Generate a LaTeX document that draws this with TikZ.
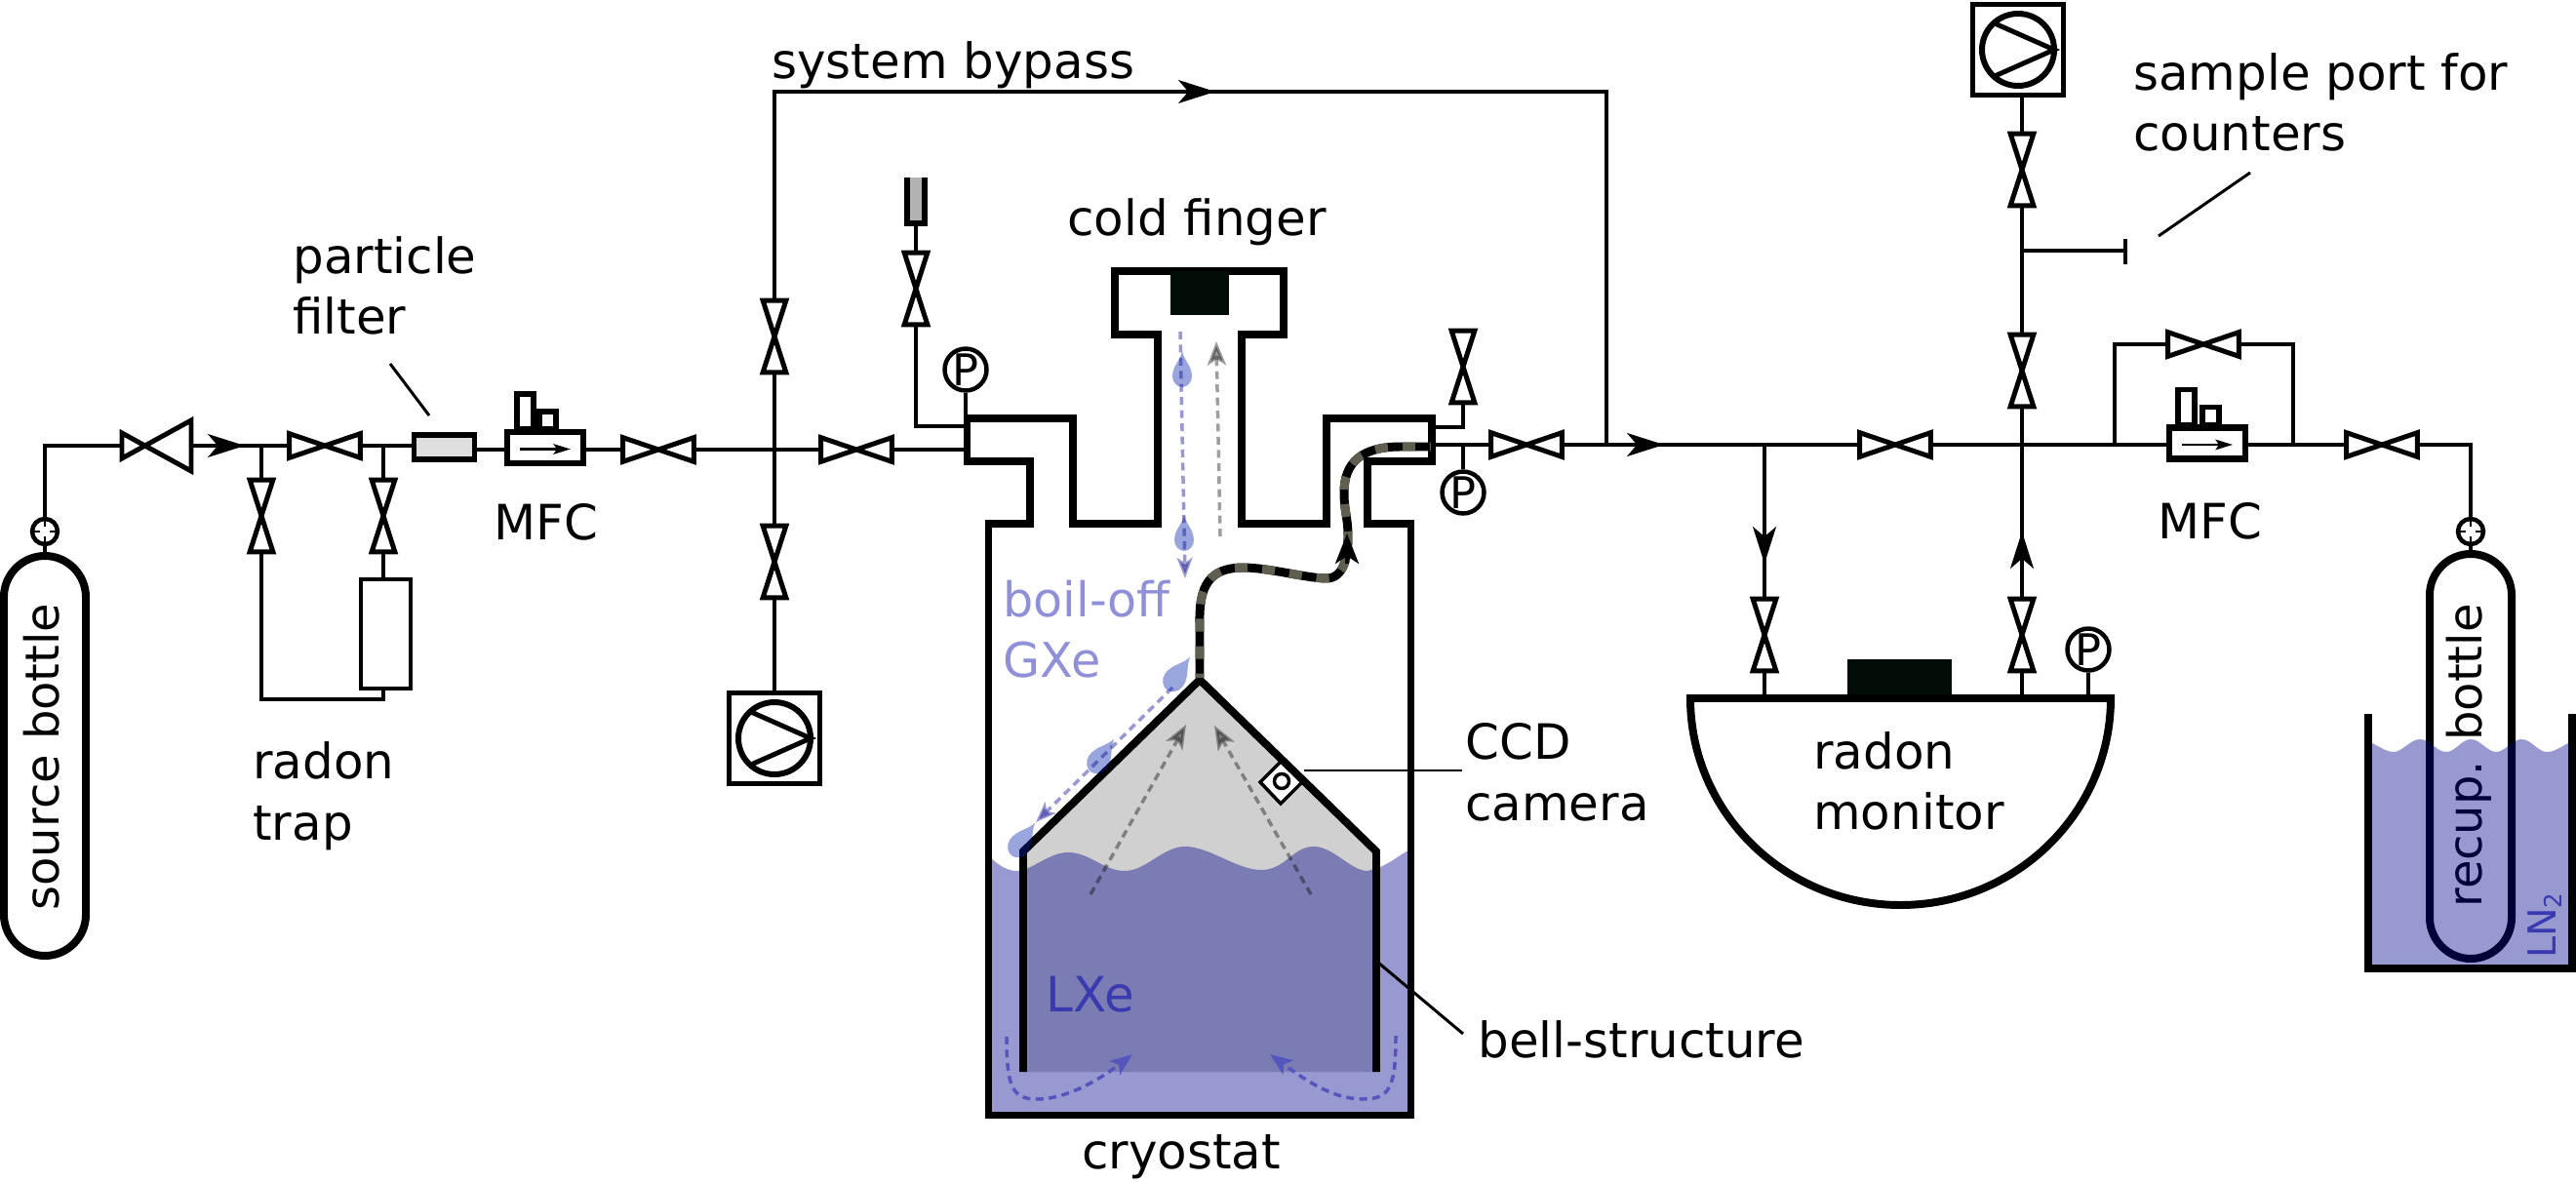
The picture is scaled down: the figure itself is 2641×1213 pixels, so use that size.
\documentclass[tikz,border=0pt]{standalone}
\usepackage{fontspec}
\setmainfont{DejaVu Sans}
\usetikzlibrary{arrows.meta,calc}
\def\px{0.5669pt}
\definecolor{liq}{RGB}{0,0,140}
\definecolor{dropc}{RGB}{0,30,170}
\definecolor{gxe}{RGB}{144,144,216}
\definecolor{lxe}{RGB}{58,58,176}
\definecolor{swirl}{RGB}{85,85,190}
\definecolor{cold}{RGB}{3,13,7}
\definecolor{fibre}{RGB}{95,94,80}
\tikzset{
  pipe/.style={line width=4.5*\px},
  vl/.style={line width=5*\px,fill=white},
  hv/.style={rectangle,inner sep=0pt,minimum width=1.44cm,minimum height=0.48cm},
  vv/.style={rectangle,inner sep=0pt,minimum width=0.46cm,minimum height=1.46cm},
  lab/.style={inner sep=0pt,font=\fontsize{28.4}{35.6}\selectfont,align=left},
  vlab/.style={inner sep=0pt,font=\fontsize{27.3}{34}\selectfont,rotate=90,anchor=center},
  gauge/.style={circle,draw,line width=4.5*\px,inner sep=0pt,minimum size=0.86cm,fill=white,font=\fontsize{25.5}{26}\selectfont},
  port/.style={circle,draw,line width=4.5*\px,inner sep=0pt,minimum size=0.52cm,fill=white},
  tick/.style={line width=2*\px},
  wall/.style={line width=8*\px,miter limit=10},
  lead/.style={line width=3*\px},
  flow/.style={-{Stealth[length=21.5pt,width=13.5pt,inset=5.7pt]},pipe},
  bluedash/.style={line width=3.5*\px,draw=liq,opacity=0.4,dash pattern=on 8*\px off 5.5*\px,-{Stealth[length=12pt,width=9pt,inset=3pt]}},
  greydash/.style={line width=3.5*\px,draw=black,opacity=0.38,dash pattern=on 8*\px off 5.5*\px,-{Stealth[length=14pt,width=11pt,inset=3.5pt]}},
  swirldash/.style={line width=3.5*\px,draw=swirl,dash pattern=on 8*\px off 5.5*\px,-{Stealth[length=13pt,width=10pt,inset=3pt]}},
  droplet/.style={fill=dropc,opacity=0.4},
  mfcbox/.style={rectangle,draw,line width=6.5*\px,fill=white,inner sep=0pt,minimum width=1.56cm,minimum height=0.64cm},
  pumpbox/.style={rectangle,draw,line width=5.5*\px,fill=white,inner sep=0pt,minimum size=1.86cm},
  pumpdisc/.style={circle,draw,line width=6*\px,inner sep=0pt,minimum size=1.48cm}
}
\newcommand\hvalve[3]{\node[hv] (#1) at (#2,#3) {};
  \draw[vl] (#1.north west) -- (#1.south east) -- (#1.north east) -- (#1.south west) -- cycle;}
\newcommand\vvalve[3]{\node[vv] (#1) at (#2,#3) {};
  \draw[vl] (#1.north west) -- (#1.north east) -- (#1.south west) -- (#1.south east) -- cycle;}
\newcommand\portring[3]{\node[port] (#1) at (#2,#3) {};
  \draw[tick] (#1.north) -- ++(0,10); \draw[tick] (#1.south) -- ++(0,-10);
  \draw[tick] (#1.west) -- ++(10,0); \draw[tick] (#1.east) -- ++(-10,0);}
\newcommand\pumpsym[3]{\node[pumpbox] (#1) at (#2,#3) {};
  \node[pumpdisc] (#1d) at (#2,#3) {};
  \draw[line width=5*\px] ($(#2,#3)+(-24,-27)$) -- ($(#2,#3)+(37,0)$) -- ($(#2,#3)+(-24,27)$);}
\newcommand\dropat[4]{\begin{scope}[shift={(#1,#2)},rotate=#3,scale=#4]
  \fill[droplet] (0,-19) .. controls (2,-9) and (10,-4) .. (10,7) .. controls (10,13) and (5,18) .. (0,18) .. controls (-5,18) and (-10,13) .. (-10,7) .. controls (-10,-4) and (-2,-9) .. (0,-19) -- cycle;
  \end{scope}}
\newcommand\mfcsym[5]{% name, x, y, tall x, short x
  \draw[line width=6*\px,fill=white] (#4,#3-19) rectangle (#4+17,#3-55);
  \draw[line width=6*\px,fill=white] (#5,#3-19) rectangle (#5+17,#3-37);
  \node[mfcbox] (#1) at (#2,#3) {};
  \draw[line width=2.5*\px,-{Stealth[length=10pt,width=6pt,inset=2pt]}] (#2-26,#3+1.5) -- (#2+26,#3+1.5);}
\begin{document}
\begin{tikzpicture}[x=0.02cm,y=-0.02cm]
\useasboundingbox (0,0) rectangle (2641,1213);

% ---- bell interior, recuperation bottle, liquids
\fill[black!18.5] (1230,697) -- (1410,873) -- (1410,1099) -- (1050,1099) -- (1050,873) -- cycle;
\node[vlab] (recuptext) at (2531,775) {recup. bottle};
\draw[wall] (2491,610) .. controls (2491,587) and (2510,568) .. (2533,568) .. controls (2556,568) and (2575,587) .. (2575,610) -- (2575,941) .. controls (2575,964) and (2556,983) .. (2533,983) .. controls (2510,983) and (2491,964) .. (2491,941) -- cycle;
\coordinate (recuptop) at (2533,568);
% liquid in the dewar
\fill[liq,opacity=0.4] (2432,762) .. controls (2442,767) and (2447,771) .. (2454,771) .. controls (2463,771) and (2471,758) .. (2481,758) .. controls (2491,758) and (2498,771) .. (2508,771) .. controls (2517,771) and (2524,758) .. (2533,758) .. controls (2543,758) and (2550,771) .. (2559,771) .. controls (2568,771) and (2576,758) .. (2585,758) .. controls (2595,758) and (2602,771) .. (2611,771) .. controls (2619,771) and (2625,766) .. (2633,762) -- (2633,993) -- (2432,993) -- cycle;
\node[inner sep=0pt,rotate=90,anchor=center,text=lxe,font=\fontsize{22.5}{24}\selectfont] (lntext) at (2609,949) {LN{\fontsize{14}{14}\selectfont\raisebox{-3pt}{2}}};
% liquid in the cryostat
\fill[liq,opacity=0.4] (1016,880) .. controls (1025,888) and (1033,893) .. (1043,893) -- (1052,891) .. controls (1068,884) and (1080,874) .. (1095,874) .. controls (1117,874) and (1132,893) .. (1153,893) .. controls (1175,893) and (1192,868) .. (1215,868) .. controls (1240,868) and (1268,892) .. (1293,892) .. controls (1318,892) and (1325,868) .. (1347,868) .. controls (1367,868) and (1385,893) .. (1402,893) -- (1413,890) .. controls (1425,885) and (1433,878) .. (1444,872) -- (1444,1141) -- (1016,1141) -- cycle;

% dewar wall
\draw[line width=8*\px,miter limit=10] (2428,732) -- (2428,993) -- (2637,993) -- (2637,732);

% ---- source bottle
\draw[wall] (4,612) .. controls (4,589) and (23,570) .. (46,570) .. controls (69,570) and (88,589) .. (88,612) -- (88,938) .. controls (88,961) and (69,980) .. (46,980) .. controls (23,980) and (4,961) .. (4,938) -- cycle;
\coordinate (sourcetop) at (46,570);
\node[vlab] (sourcetext) at (43,776) {source bottle};
\portring{pA}{46}{545}
\portring{pB}{2533}{545}
\draw[pipe] (pA.south) -- (sourcetop);
\draw[pipe] (pB.south) -- (recuptop);

% ---- left gas panel
\node[rectangle,inner sep=0pt,minimum width=1.42cm,minimum height=1.04cm] (vR) at (160.5,457) {};
\draw[vl] (125,444) -- (196,483) -- (196,431) -- (125,470) -- cycle;
\coordinate (tee1) at (268,457);
\coordinate (tee2) at (393,457);
\coordinate (corner1) at (46,457);
\draw[pipe] (pA.north) -- (corner1) -- (vR.west);
\hvalve{vA}{333}{457}
\node[rectangle,draw,line width=6*\px,fill=black!13,inner sep=0pt,minimum width=1.24cm,minimum height=0.5cm] (filt) at (455.5,458.5) {};
\mfcsym{mfcL}{559}{459}{530}{553}
\hvalve{vB}{675}{461}
\hvalve{vC}{878}{461}
\coordinate (tip1) at (251,457);
\draw[pipe] (vR.east) -- (vA.west);
\draw[flow] (vR.east) -- (tip1);
\draw[pipe] (vA.east) -- (vA.east -| filt.west);
\draw[pipe] (filt.east |- vB.west) -- (mfcL.west |- vB.west);
\draw[pipe] (mfcL.east |- vB.west) -- (vB.west);
\vvalve{vH}{268}{529}
\vvalve{vI}{393}{529}
\node[rectangle,draw,line width=4.5*\px,fill=white,inner sep=0pt,minimum width=1.02cm,minimum height=2.24cm] (trap) at (395.5,650) {};
\coordinate (trapdrop) at (393,717);
\coordinate (corner2) at (268,717);
\draw[pipe] (tee1) -- (vH.north);
\draw[pipe] (tee2) -- (vI.north);
\draw[pipe] (vI.south) -- (vI.south |- trap.north);
\draw[pipe] (vH.south) -- (corner2) -- (trapdrop) -- (trapdrop |- trap.south);

% ---- pump, bypass
\coordinate (cross1) at (794,461);
\vvalve{vJ}{794}{345}
\vvalve{vK}{794}{576}
\pumpsym{pumpL}{794}{757}
\coordinate (corner3) at (794,94);
\coordinate (corner4) at (1647,94);
\coordinate (joinR) at (1647,456);
\coordinate (byptail) at (1209,94);
\coordinate (byptip) at (1246,94);
\draw[pipe] (vB.east) -- (vC.west);
\draw[pipe] (vJ.north) -- (corner3) -- (corner4) -- (joinR);
\draw[pipe] (vJ.south) -- (vK.north);
\draw[pipe] (vK.south) -- (pumpL.north);
\draw[flow] (byptail) -- (byptip);

% ---- left cryostat services
\coordinate (flA) at (991,461);
\coordinate (flB) at (991,437);
\coordinate (corner5) at (939,437);
\draw[pipe] (vC.east) -- (flA);
\vvalve{vL}{939}{296}
\draw[line width=5.5*\px,fill=black!30] (930,182) -- (930,229) -- (948,229) -- (948,182);
\coordinate (stub) at (939,229);
\draw[pipe] (stub) -- (vL.north);
\draw[pipe] (vL.south) -- (corner5) -- (flB);
\node[gauge] (gA) at (990,379) {P};
\coordinate (flC) at (990,429);
\draw[pipe] (gA.south) -- (flC);

% ---- cryostat
\draw[wall,fill=none] (991.5,429) -- (991.5,473) -- (1056,473) -- (1056,537) -- (1013.5,537) -- (1013.5,1143.5) -- (1446.5,1143.5) -- (1446.5,537) -- (1402,537) -- (1402,473) -- (1468,473) -- (1468,429) -- (1360,429) -- (1360,537) -- (1273,537) -- (1273,343) -- (1316,343) -- (1316,278) -- (1143,278) -- (1143,343) -- (1187,343) -- (1187,537) -- (1100,537) -- (1100,429) -- cycle;
\node[rectangle,fill=cold,inner sep=0pt,minimum width=1.2cm,minimum height=0.9cm] (coldhead) at (1230,300.5) {};

% camera
\draw[line width=3.5*\px,fill=white] (1314,780) -- (1335,802) -- (1313,824) -- (1292,802) -- cycle;
\node[circle,draw,line width=3.5*\px,inner sep=0pt,minimum size=0.3cm] (cam) at (1314,801) {};

% bell
\draw[wall] (1049,1099) -- (1049,873) -- (1230,697) -- (1411,873) -- (1411,1099);
\coordinate (bellwall) at (1413,987);
\coordinate (belllab) at (1500,1060);
\coordinate (ccdlab) at (1499,790);
\coordinate (ccdstart) at (1337,790);
\draw[lead] (ccdstart) -- (ccdlab);
\draw[lead] (bellwall) -- (belllab);

% right cryostat services
\coordinate (flD) at (1468,438);
\coordinate (corner6) at (1500,438);
\coordinate (flE) at (1468,456);
\vvalve{vM}{1500}{376}
\hvalve{vD}{1565}{456}
\node[gauge] (gB) at (1500,505) {P};
\coordinate (tee3) at (1500,456);
\draw[pipe] (flD) -- (corner6) -- (vM.south);
\draw[pipe] (flE) -- (vD.west);
\draw[pipe] (tee3) -- (gB.north);

% fibre
\draw[line width=9*\px,black] (1230,695) -- (1230,640) .. controls (1229,600) and (1240,582) .. (1275,582) .. controls (1300,582) and (1340,593) .. (1360,593) .. controls (1378,593) and (1382,570) .. (1382,550) .. controls (1382,530) and (1378,525) .. (1378,505) .. controls (1378,475) and (1395,458) .. (1436,458) -- (1467,458);
\draw[line width=9*\px,fibre,dash pattern=on 7.5pt off 8.5pt,dash phase=5pt] (1230,695) -- (1230,640) .. controls (1229,600) and (1240,582) .. (1275,582) .. controls (1300,582) and (1340,593) .. (1360,593) .. controls (1378,593) and (1382,570) .. (1382,550) .. controls (1382,530) and (1378,525) .. (1378,505) .. controls (1378,475) and (1395,458) .. (1436,458) -- (1467,458);
\coordinate (fibtail) at (1381,578);
\coordinate (fibtip) at (1381,547);
\draw[pipe,-{Stealth[length=17.6pt,width=13.6pt,inset=4.5pt]}] (fibtail) -- (fibtip);

% drops and dashed flows
\dropat{1212}{379}{0}{1}
\dropat{1214}{547}{0}{1}
\dropat{1208}{691}{-35}{1.12}
\dropat{1130}{775}{-35}{1.12}
\dropat{1049}{861}{-35}{1.12}
\draw[bluedash] (1210,340) -- (1215,593);
\draw[greydash] (1251,550) -- (1247,350);
\draw[bluedash] (1202,705) -- (1062,843);
\draw[greydash] (1118,917) -- (1216,743);
\draw[greydash] (1344,917) -- (1245,744);
\draw[swirldash] (1032,1063) .. controls (1032,1115) and (1038,1127) .. (1063,1127) .. controls (1095,1127) and (1130,1105) .. (1161,1081);
\draw[swirldash] (1431,1062) .. controls (1431,1115) and (1425,1127) .. (1397,1127) .. controls (1365,1127) and (1335,1105) .. (1302,1081);

% ---- right gas panel
\coordinate (tail2) at (1664,456);
\coordinate (tip2) at (1706,456);
\coordinate (tee4) at (1809,456);
\coordinate (cross2) at (2073,456);
\coordinate (tee5) at (2168,456);
\coordinate (tee6) at (2351,456);
\coordinate (corner7) at (2533,456);
\coordinate (corner8) at (2168,353);
\coordinate (corner9) at (2351,353);
\hvalve{vE}{1943}{456}
\hvalve{vF}{2259}{353}
\hvalve{vG}{2442}{456}
\draw[pipe] (vD.east) -- (vE.west);
\draw[flow] (tail2) -- (tip2);
\mfcsym{mfcR}{2263}{454.5}{2233}{2258}
\draw[pipe] (vE.east) -- (vE.east -| mfcR.west);
\draw[pipe] (mfcR.east |- vG.west) -- (vG.west);
\draw[pipe] (vG.east) -- (corner7) -- (pB.north);
\draw[pipe] (tee5) -- (corner8) -- (vF.west);
\draw[pipe] (vF.east) -- (corner9) -- (tee6);
\vvalve{vN}{2073}{380}
\vvalve{vO}{2073}{174}
\vvalve{vP}{1809}{651}
\vvalve{vQ}{2073}{651}
\pumpsym{pumpR}{2069}{51}
\coordinate (monA) at (1809,716);
\coordinate (monB) at (2073,716);
\coordinate (monC) at (2141,716);
\coordinate (tee7) at (2073,257);
\coordinate (capR) at (2179,257);
\coordinate (capT) at (2179,245);
\coordinate (capB) at (2179,271);
\coordinate (tail3) at (1809,540);
\coordinate (tip3) at (1809,578);
\coordinate (tail4) at (2073,582);
\coordinate (tip4) at (2073,545);
\draw[pipe] (vO.north) -- (vO.north |- pumpR.south);
\draw[pipe] (vO.south) -- (vN.north);
\draw[pipe] (vN.south) -- (vQ.north);
\draw[pipe] (vQ.south) -- (monB);
\draw[pipe] (tee4) -- (vP.north);
\draw[pipe] (vP.south) -- (monA);
\draw[pipe] (tee7) -- (capR);
\draw[line width=4.5*\px] (capT) -- (capB);
\draw[flow] (tail3) -- (tip3);
\draw[flow] (tail4) -- (tip4);
\node[gauge] (gC) at (2141,666) {P};
\draw[pipe] (gC.south) -- (monC);

% ---- radon monitor
\node[rectangle,fill=cold,inner sep=0pt,minimum width=2.14cm,minimum height=0.76cm] (monblock) at (1947.5,695) {};
\draw[wall] (1733,716) -- (2164,716) .. controls (2164,833) and (2067,928) .. (1948.5,928) .. controls (1830,928) and (1733,833) .. (1733,716) -- cycle;

% ---- leaders
\coordinate (pfA) at (400,373);
\coordinate (pfB) at (440,426);
\draw[lead] (pfA) -- (pfB);
\coordinate (spA) at (2213,242);
\coordinate (spB) at (2307,177);
\draw[lead] (spA) -- (spB);

% ---- labels
\node[lab,anchor=base west] (t1) at (791,81) {system bypass};
\node[lab,anchor=west] (t2) at (300,293) {particle\\filter};
\node[lab,anchor=center] (t3) at (560,535) {MFC};
\node[lab,anchor=west] (t4) at (259,816) {radon\\trap};
\node[lab,anchor=center] (t5) at (1227,228) {cold finger};
\node[lab,anchor=west,text=gxe,font=\fontsize{28}{35.6}\selectfont] (t6) at (1028,645) {boil-off\\GXe};
\node[lab,anchor=base west,text=lxe] (t7) at (1072,1037) {LXe};
\node[lab,anchor=west] (t8) at (1502,792) {CCD\\camera};
\node[lab,anchor=west] (t9) at (1515,1066) {bell-structure};
\node[lab,anchor=center] (t10) at (1211,1186) {cryostat};
\node[lab,anchor=west] (t11) at (1859,801) {radon\\monitor};
\node[lab,anchor=center] (t12) at (2266,534) {MFC};
\node[lab,anchor=west] (t13) at (2187,105) {sample port for\\counters};
\end{tikzpicture}
\end{document}
